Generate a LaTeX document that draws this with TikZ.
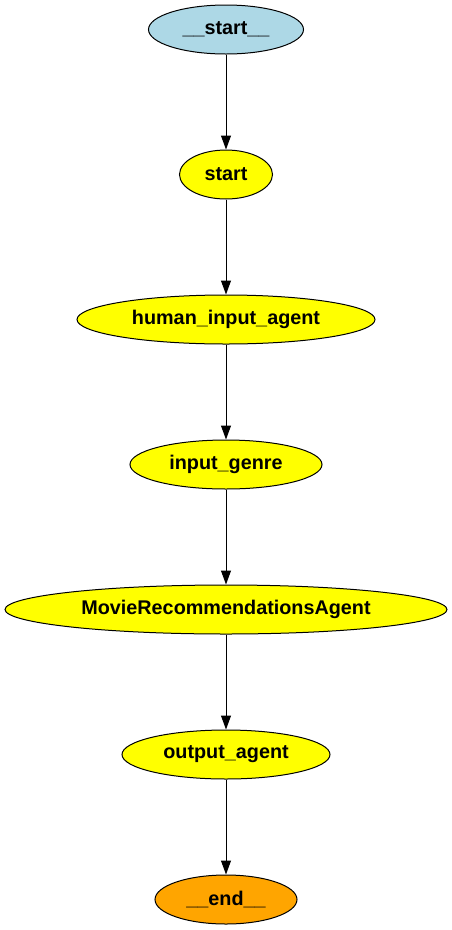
\documentclass[tikz,border=0pt]{standalone}
\usepackage{fontspec}
\setmainfont{Liberation Sans}
\usetikzlibrary{shapes.geometric,arrows.meta}
\definecolor{lightbluefill}{RGB}{173,216,230}
\definecolor{orangefill}{RGB}{255,165,0}
\definecolor{yellowfill}{RGB}{255,255,0}
\begin{document}
\begin{tikzpicture}[x=1pt,y=-1pt,
  gnode/.style={ellipse,draw=black,line width=1pt,inner sep=0pt,font=\fontsize{19.8}{21}\selectfont\bfseries,text=black},
  edge/.style={draw=black,line width=1pt,-{Triangle[length=14pt,width=10pt]}}]
\useasboundingbox (0,0) rectangle (452,930);
\node[gnode,fill=lightbluefill,minimum width=155pt,minimum height=49pt] (s0) at (226,29.5) {\_\_start\_\_};
\node[gnode,fill=yellowfill,minimum width=93pt,minimum height=49pt] (s1) at (226,174.5) {start};
\node[gnode,fill=yellowfill,minimum width=298pt,minimum height=49pt] (s2) at (226,319.5) {human\_input\_agent};
\node[gnode,fill=yellowfill,minimum width=192pt,minimum height=49pt] (s3) at (226,464.5) {input\_genre};
\node[gnode,fill=yellowfill,minimum width=442pt,minimum height=49pt] (s4) at (226,609.5) {MovieRecommendationsAgent};
\node[gnode,fill=yellowfill,minimum width=208pt,minimum height=49pt] (s5) at (226,754.5) {output\_agent};
\node[gnode,fill=orangefill,minimum width=142pt,minimum height=49pt] (s6) at (226,899.5) {\_\_end\_\_};
\draw[edge] (s0) -- (s1);
\draw[edge] (s1) -- (s2);
\draw[edge] (s2) -- (s3);
\draw[edge] (s3) -- (s4);
\draw[edge] (s4) -- (s5);
\draw[edge] (s5) -- (s6);
\end{tikzpicture}
\end{document}
